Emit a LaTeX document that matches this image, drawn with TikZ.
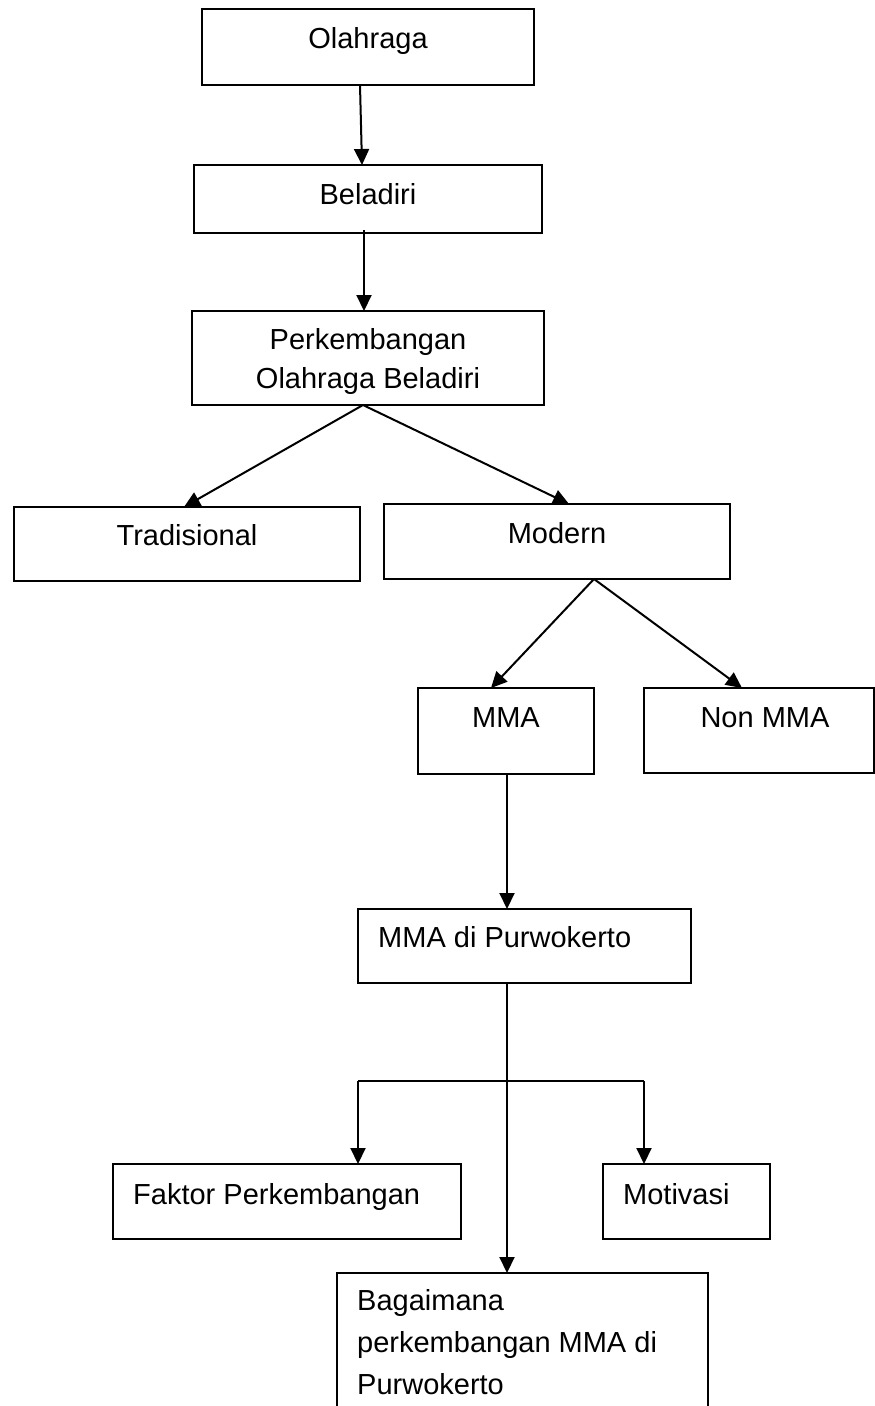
\documentclass[tikz,border=0pt]{standalone}
\usepackage{fontspec}
\setmainfont{Liberation Sans}
\usetikzlibrary{arrows.meta}
\newcommand\dgfont{\fontsize{29}{39}\selectfont}
\newcommand\dgfontb{\fontsize{29}{42}\selectfont}
\tikzset{
  box/.style={draw, line width=2pt, inner sep=0pt, outer sep=0pt},
  txt/.style={inner sep=0pt, font=\dgfont},
  arr/.style={line width=2pt, -{Triangle[length=16pt,width=15pt]}},
  ln/.style={line width=2pt}
}
\begin{document}
\begin{tikzpicture}[x=1pt,y=-1pt]
\useasboundingbox (0,0) rectangle (875,1406);
\fill[white] (0,0) rectangle (875,1406);
\clip (0,0) rectangle (875,1406);

% boxes
\node[box, minimum width=332pt, minimum height=76pt] (o) at (368,47) {};
\node[box, minimum width=348pt, minimum height=68pt] (b) at (368,199) {};
\node[box, minimum width=352pt, minimum height=94pt] (p) at (368,358) {};
\node[box, minimum width=346pt, minimum height=74pt] (t) at (187,544) {};
\node[box, minimum width=346pt, minimum height=75pt] (m) at (557,541.5) {};
\node[box, minimum width=176pt, minimum height=86pt] (mma) at (506,731) {};
\node[box, minimum width=230pt, minimum height=85pt] (non) at (759,730.5) {};
\node[box, minimum width=333pt, minimum height=74pt] (pw) at (524.5,946) {};
\node[box, minimum width=348pt, minimum height=75pt] (f) at (287,1201.5) {};
\node[box, minimum width=167pt, minimum height=75pt] (mo) at (686.5,1201.5) {};
\node[box, minimum width=371pt, minimum height=167pt] (bg) at (522.5,1356.5) {};

% texts
\node[txt, anchor=base] (to) at (368,48) {Olahraga};
\node[txt, anchor=base] (tb) at (368,204) {Beladiri};
\node[txt, anchor=base] (tp) at (368,349) {\begin{tabular}[t]{@{}c@{}}Perkembangan\\Olahraga Beladiri\end{tabular}};
\node[txt, anchor=base] (tt) at (187,545) {Tradisional};
\node[txt, anchor=base] (tm) at (557,543) {Modern};
\node[txt, anchor=base] (tmma) at (506,727) {MMA};
\node[txt, anchor=base] (tnon) at (765,727) {Non MMA};
\node[txt, anchor=base west] (tpw) at (378,947) {MMA di Purwokerto};
\node[txt, anchor=base west] (tf) at (133,1204) {Faktor Perkembangan};
\node[txt, anchor=base west] (tmo) at (623,1204) {Motivasi};
\node[txt, anchor=base west, font=\dgfontb] (tbg) at (357,1310) {\begin{tabular}[t]{@{}l@{}}Bagaimana\\perkembangan MMA di\\Purwokerto\end{tabular}};

% connectors
\draw[arr] ([xshift=-8pt]o.south) -- ([xshift=-6pt]b.north);
\draw[arr] ([xshift=-4pt,yshift=3pt]b.south) -- ([xshift=-4pt]p.north);
\draw[arr] ([xshift=-5pt]p.south) -- ([xshift=-3pt]t.north);
\draw[arr] ([xshift=-5pt]p.south) -- ([xshift=12pt]m.north);
\draw[arr] ([xshift=37pt]m.south) -- ([xshift=-15pt]mma.north);
\draw[arr] ([xshift=37pt]m.south) -- ([xshift=-17pt]non.north);
\draw[arr] ([xshift=1pt]mma.south) -- ([xshift=-17.5pt]pw.north);
\draw[arr] ([xshift=-17.5pt]pw.south) -- ([xshift=-15.5pt]bg.north);
\coordinate (jl) at (358,1081);
\coordinate (jr) at (644,1081);
\draw[ln] (jl) -- (jr);
\draw[arr] (jl) -- (jl |- f.north);
\draw[arr] (jr) -- (jr |- mo.north);
\end{tikzpicture}
\end{document}
